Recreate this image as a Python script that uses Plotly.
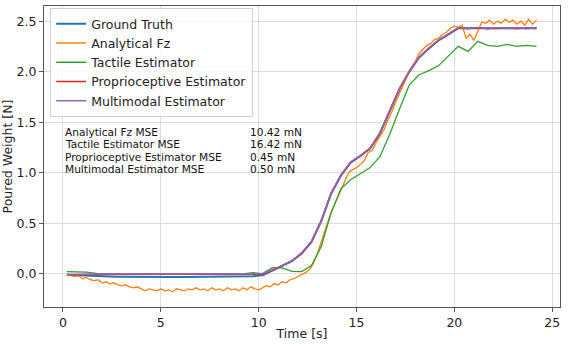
import plotly.graph_objects as go

# time bases (s)
t_coarse = [0.2, 0.7, 1.2, 1.7, 2.2, 2.7, 3.2, 3.7, 4.2, 4.7, 5.2, 5.7, 6.2, 6.7, 7.2, 7.7,
            8.2, 8.7, 9.2, 9.7, 10.2, 10.7, 11.2, 11.7, 12.2, 12.7, 13.2, 13.7, 14.2, 14.7,
            15.2, 15.7, 16.2, 16.7, 17.2, 17.7, 18.2, 18.7, 19.2, 19.7, 20.2, 20.7, 21.2,
            21.7, 22.2, 22.7, 23.2, 23.7, 24.2]

t_fine = [0.2, 0.4, 0.6, 0.8, 1.0, 1.2, 1.4, 1.6, 1.8, 2.0, 2.2, 2.4, 2.6, 2.8, 3.0, 3.2,
          3.4, 3.6, 3.8, 4.0, 4.2, 4.4, 4.6, 4.8, 5.0, 5.2, 5.4, 5.6, 5.8, 6.0, 6.2, 6.4,
          6.6, 6.8, 7.0, 7.2, 7.4, 7.6, 7.8, 8.0, 8.2, 8.4, 8.6, 8.8, 9.0, 9.2, 9.4, 9.6,
          9.8, 10.0, 10.2, 10.4, 10.6, 10.8, 11.0, 11.2, 11.4, 11.6, 11.8, 12.0, 12.2, 12.4,
          12.6, 12.8, 13.0, 13.2, 13.4, 13.6, 13.8, 14.0, 14.2, 14.4, 14.6, 14.8, 15.0, 15.2,
          15.4, 15.6, 15.8, 16.0, 16.2, 16.4, 16.6, 16.8, 17.0, 17.2, 17.4, 17.6, 17.8, 18.0,
          18.2, 18.4, 18.6, 18.8, 19.0, 19.2, 19.4, 19.6, 19.8, 20.0, 20.2, 20.4, 20.6, 20.8,
          21.0, 21.2, 21.4, 21.6, 21.8, 22.0, 22.2, 22.4, 22.6, 22.8, 23.0, 23.2, 23.4, 23.6,
          23.8, 24.0, 24.2]

ground_truth = [-0.010, -0.015, -0.020, -0.025, -0.028, -0.030, -0.030, -0.032, -0.033,
                -0.033, -0.033, -0.033, -0.032, -0.032, -0.031, -0.030, -0.030, -0.028,
                -0.027, -0.025, -0.015, 0.030, 0.075, 0.125, 0.200, 0.315, 0.520, 0.790,
                0.970, 1.100, 1.165, 1.240, 1.390, 1.610, 1.830, 2.000, 2.140, 2.230, 2.310,
                2.370, 2.430, 2.430, 2.430, 2.430, 2.430, 2.430, 2.430, 2.430, 2.430]

proprio = [-0.010, -0.008, -0.006, -0.005, -0.005, -0.005, -0.005, -0.004, -0.004, -0.004,
           -0.004, -0.004, -0.004, -0.004, -0.004, -0.004, -0.004, -0.004, -0.004, -0.004,
           -0.005, 0.030, 0.078, 0.128, 0.203, 0.318, 0.525, 0.795, 0.972, 1.102, 1.168,
           1.242, 1.392, 1.612, 1.832, 2.002, 2.142, 2.232, 2.312, 2.372, 2.432, 2.428,
           2.432, 2.428, 2.432, 2.430, 2.428, 2.432, 2.428]

multimodal = [-0.008, -0.006, -0.004, -0.003, -0.002, -0.004, -0.001, -0.003, -0.002,
              -0.004, -0.001, -0.002, -0.003, 0.000, -0.002, -0.003, -0.001, -0.002, 0.000,
              -0.002, -0.002, 0.035, 0.080, 0.126, 0.208, 0.320, 0.522, 0.798, 0.975, 1.105,
              1.170, 1.245, 1.395, 1.615, 1.835, 2.005, 2.145, 2.236, 2.315, 2.376, 2.435,
              2.425, 2.438, 2.424, 2.436, 2.426, 2.437, 2.425, 2.433]

tactile = [0.020, 0.020, 0.015, 0.002, -0.004, -0.005, -0.005, -0.005, -0.005, -0.005,
           -0.005, -0.005, -0.005, -0.005, -0.004, -0.004, -0.004, -0.003, -0.002, 0.010,
           0.000, 0.060, 0.058, 0.022, 0.020, 0.080, 0.270, 0.600, 0.840, 0.930, 0.990,
           1.050, 1.160, 1.380, 1.630, 1.870, 1.970, 2.010, 2.060, 2.150, 2.250, 2.200,
           2.300, 2.260, 2.250, 2.270, 2.250, 2.260, 2.250]

analytical = [-0.010, -0.020, -0.030, -0.020, -0.050, -0.040, -0.060, -0.070, -0.060,
              -0.090, -0.080, -0.100, -0.090, -0.110, -0.120, -0.110, -0.130, -0.140,
              -0.130, -0.150, -0.170, -0.150, -0.160, -0.170, -0.150, -0.170, -0.160,
              -0.180, -0.150, -0.160, -0.170, -0.150, -0.160, -0.140, -0.160, -0.150,
              -0.170, -0.140, -0.160, -0.150, -0.170, -0.140, -0.160, -0.150, -0.170,
              -0.140, -0.160, -0.130, -0.150, -0.160, -0.140, -0.120, -0.130, -0.100,
              -0.110, -0.080, -0.090, -0.060, -0.050, -0.030, -0.010, 0.010, 0.040, 0.100,
              0.200, 0.320, 0.450, 0.550, 0.650, 0.740, 0.820, 0.920, 1.000, 1.030, 1.050,
              1.080, 1.120, 1.200, 1.220, 1.300, 1.360, 1.420, 1.520, 1.600, 1.700, 1.790,
              1.880, 1.960, 2.040, 2.100, 2.180, 2.220, 2.260, 2.280, 2.320, 2.330, 2.370,
              2.390, 2.430, 2.450, 2.440, 2.460, 2.330, 2.370, 2.310, 2.400, 2.490, 2.480,
              2.510, 2.470, 2.500, 2.480, 2.520, 2.490, 2.510, 2.470, 2.500, 2.460, 2.520,
              2.470, 2.510]

mse_labels = ["Analytical Fz MSE", "Tactile Estimator MSE",
              "Proprioceptive Estimator MSE", "Multimodal Estimator MSE"]
mse_values = ["10.42 mN", "16.42 mN", "0.45 mN", "0.50 mN"]
mse_rows_y = [1.405, 1.282, 1.159, 1.036]

FONT = "DejaVu Sans"

fig = go.Figure()
series = [
    ("Ground Truth", t_coarse, ground_truth, "#1f77b4", 2),
    ("Analytical Fz", t_fine, analytical, "#ff7f0e", 1.3),
    ("Tactile Estimator", t_coarse, tactile, "#2ca02c", 1.3),
    ("Proprioceptive Estimator", t_coarse, proprio, "#d62728", 1.5),
    ("Multimodal Estimator", t_coarse, multimodal, "#9467bd", 1.3),
]
for name, x, y, color, w in series:
    fig.add_trace(go.Scatter(x=x, y=y, name=name, mode="lines",
                             line=dict(color=color, width=w)))

# MSE table, one annotation per cell to keep tight line spacing
for label, value, yy in zip(mse_labels, mse_values, mse_rows_y):
    fig.add_annotation(x=0.05, y=yy, xref="x", yref="y", xanchor="left", yanchor="middle",
                       text=label, showarrow=False, borderpad=0,
                       font=dict(family=FONT, size=10.6, color="#111"))
    fig.add_annotation(x=9.5, y=yy, xref="x", yref="y", xanchor="left", yanchor="middle",
                       text=value, showarrow=False, borderpad=0,
                       font=dict(family=FONT, size=10.6, color="#111"))

axis_common = dict(
    showgrid=True, gridcolor="#dcdcdc", gridwidth=1, zeroline=False,
    showline=True, linecolor="#555", linewidth=1, mirror=True,
    ticks="outside", ticklen=4, tickcolor="#555", automargin=False,
    tickfont=dict(family=FONT, size=12.5, color="#222"),
)

fig.update_layout(
    width=586, height=344,
    paper_bgcolor="white", plot_bgcolor="white",
    font=dict(family=FONT, color="#222"),
    margin=dict(l=44, r=26, t=6, b=37),
    showlegend=True,
    legend=dict(x=0.012, y=0.993, xanchor="left", yanchor="top",
                bgcolor="rgba(255,255,255,0.8)", bordercolor="#d0d0d0", borderwidth=1,
                font=dict(family=FONT, size=12.5), tracegroupgap=0, itemwidth=30),
    xaxis=dict(range=[-0.97, 25.4], tickvals=[0, 5, 10, 15, 20, 25],
               title=dict(text="Time [s]", font=dict(family=FONT, size=12.5), standoff=0),
               **axis_common),
    yaxis=dict(range=[-0.33, 2.65], tickvals=[0.0, 0.5, 1.0, 1.5, 2.0, 2.5],
               tickformat=".1f",
               title=dict(text="Poured Weight [N]", font=dict(family=FONT, size=12.5), standoff=2),
               **axis_common),
)

fig.write_html("out.html", config={"displayModeBar": False},
               post_script="document.body.style.margin='0';document.body.style.overflow='hidden';")
